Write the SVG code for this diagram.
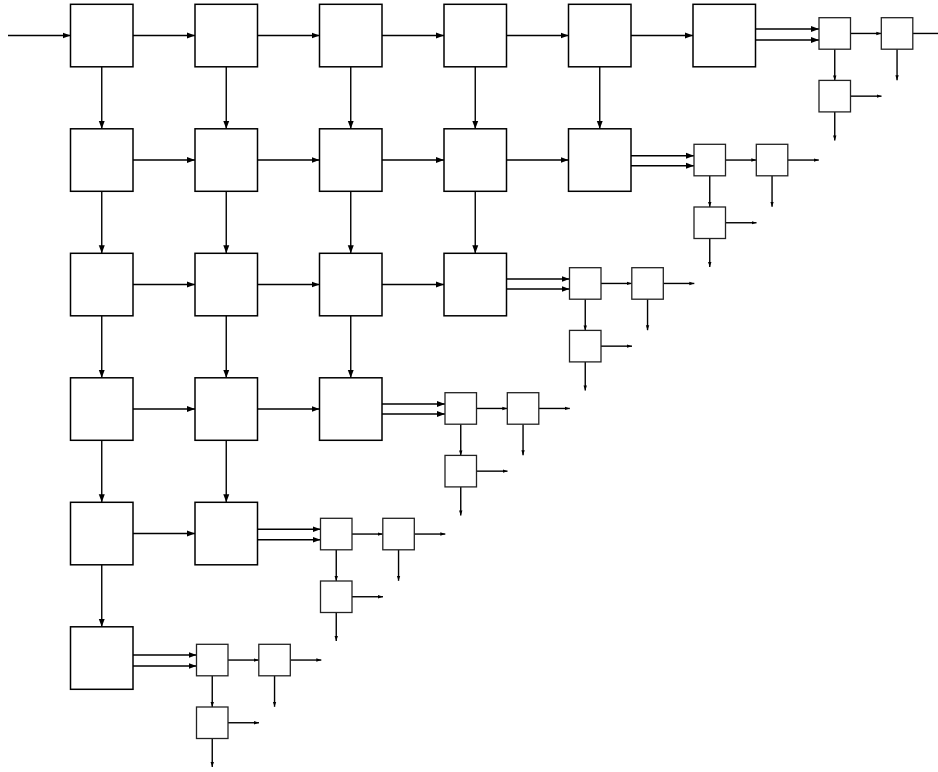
<svg xmlns="http://www.w3.org/2000/svg" width="938" height="772" viewBox="0 0 938 772">
<style>
.big{fill:#fff;stroke:#000;stroke-width:1.5}
.sm{fill:#fff;stroke:#222;stroke-width:1.3}
.c{stroke:#000;stroke-width:1.4;fill:none}
.cb{marker-end:url(#ab)}
.cs{marker-end:url(#as)}
</style>
<defs>
<marker id="ab" markerUnits="userSpaceOnUse" markerWidth="9" markerHeight="8" refX="8" refY="3.5" orient="auto"><path d="M0,0.5 L8,3.5 L0,6.5 z" fill="#000"/></marker>
<marker id="as" markerUnits="userSpaceOnUse" markerWidth="6" markerHeight="5" refX="5" refY="2" orient="auto"><path d="M0,0.3 L5,2 L0,3.7 z" fill="#000"/></marker>
</defs>
<rect width="938" height="772" fill="#fff"/>
<g id="connectors" class="c">
<line class="cb" x1="8" y1="35.55" x2="70.5" y2="35.55"/>
<line class="cb" x1="133" y1="35.55" x2="195" y2="35.55"/>
<line class="cb" x1="257.5" y1="35.55" x2="319.5" y2="35.55"/>
<line class="cb" x1="382" y1="35.55" x2="444" y2="35.55"/>
<line class="cb" x1="506.5" y1="35.55" x2="568.5" y2="35.55"/>
<line class="cb" x1="631" y1="35.55" x2="693" y2="35.55"/>
<line class="cb" x1="133" y1="160.05" x2="195" y2="160.05"/>
<line class="cb" x1="257.5" y1="160.05" x2="319.5" y2="160.05"/>
<line class="cb" x1="382" y1="160.05" x2="444" y2="160.05"/>
<line class="cb" x1="506.5" y1="160.05" x2="568.5" y2="160.05"/>
<line class="cb" x1="133" y1="284.55" x2="195" y2="284.55"/>
<line class="cb" x1="257.5" y1="284.55" x2="319.5" y2="284.55"/>
<line class="cb" x1="382" y1="284.55" x2="444" y2="284.55"/>
<line class="cb" x1="133" y1="409.05" x2="195" y2="409.05"/>
<line class="cb" x1="257.5" y1="409.05" x2="319.5" y2="409.05"/>
<line class="cb" x1="133" y1="533.55" x2="195" y2="533.55"/>
<line class="cb" x1="101.75" y1="66.8" x2="101.75" y2="128.8"/>
<line class="cb" x1="101.75" y1="191.3" x2="101.75" y2="253.3"/>
<line class="cb" x1="101.75" y1="315.8" x2="101.75" y2="377.8"/>
<line class="cb" x1="101.75" y1="440.3" x2="101.75" y2="502.3"/>
<line class="cb" x1="101.75" y1="564.8" x2="101.75" y2="626.8"/>
<line class="cb" x1="226.25" y1="66.8" x2="226.25" y2="128.8"/>
<line class="cb" x1="226.25" y1="191.3" x2="226.25" y2="253.3"/>
<line class="cb" x1="226.25" y1="315.8" x2="226.25" y2="377.8"/>
<line class="cb" x1="226.25" y1="440.3" x2="226.25" y2="502.3"/>
<line class="cb" x1="350.75" y1="66.8" x2="350.75" y2="128.8"/>
<line class="cb" x1="350.75" y1="191.3" x2="350.75" y2="253.3"/>
<line class="cb" x1="350.75" y1="315.8" x2="350.75" y2="377.8"/>
<line class="cb" x1="475.25" y1="66.8" x2="475.25" y2="128.8"/>
<line class="cb" x1="475.25" y1="191.3" x2="475.25" y2="253.3"/>
<line class="cb" x1="599.75" y1="66.8" x2="599.75" y2="128.8"/>
<!-- row 0 cluster -->
<line class="cb" x1="755.5" y1="29" x2="819" y2="29"/>
<line class="cb" x1="755.5" y1="40" x2="819" y2="40"/>
<line class="cs" x1="850.5" y1="33.45" x2="881.3" y2="33.45"/>
<line class="cs" x1="912.8" y1="33.45" x2="943.8" y2="33.45"/>
<line class="cs" x1="897.05" y1="49.2" x2="897.05" y2="80.2"/>
<line class="cs" x1="834.75" y1="49.2" x2="834.75" y2="80.4"/>
<line class="cs" x1="850.5" y1="96.15" x2="881.5" y2="96.15"/>
<line class="cs" x1="834.75" y1="111.9" x2="834.75" y2="140.4"/>
<!-- row 1 cluster -->
<line class="cb" x1="631" y1="155.7" x2="694" y2="155.7"/>
<line class="cb" x1="631" y1="165.7" x2="694" y2="165.7"/>
<line class="cs" x1="725.5" y1="160.05" x2="756.3" y2="160.05"/>
<line class="cs" x1="787.8" y1="160.05" x2="818.8" y2="160.05"/>
<line class="cs" x1="772.05" y1="175.8" x2="772.05" y2="206.8"/>
<line class="cs" x1="709.75" y1="175.8" x2="709.75" y2="207"/>
<line class="cs" x1="725.5" y1="222.75" x2="756.5" y2="222.75"/>
<line class="cs" x1="709.75" y1="238.5" x2="709.75" y2="267"/>
<!-- row 2 cluster -->
<line class="cb" x1="506.5" y1="279" x2="569.5" y2="279"/>
<line class="cb" x1="506.5" y1="289" x2="569.5" y2="289"/>
<line class="cs" x1="601" y1="283.45" x2="631.8" y2="283.45"/>
<line class="cs" x1="663.3" y1="283.45" x2="694.3" y2="283.45"/>
<line class="cs" x1="647.55" y1="299.2" x2="647.55" y2="330.2"/>
<line class="cs" x1="585.25" y1="299.2" x2="585.25" y2="330.4"/>
<line class="cs" x1="601" y1="346.15" x2="632" y2="346.15"/>
<line class="cs" x1="585.25" y1="361.9" x2="585.25" y2="390.4"/>
<!-- row 3 cluster -->
<line class="cb" x1="382" y1="404" x2="445" y2="404"/>
<line class="cb" x1="382" y1="414" x2="445" y2="414"/>
<line class="cs" x1="476.5" y1="408.45" x2="507.3" y2="408.45"/>
<line class="cs" x1="538.8" y1="408.45" x2="569.8" y2="408.45"/>
<line class="cs" x1="523.05" y1="424.2" x2="523.05" y2="455.2"/>
<line class="cs" x1="460.75" y1="424.2" x2="460.75" y2="455.4"/>
<line class="cs" x1="476.5" y1="471.15" x2="507.5" y2="471.15"/>
<line class="cs" x1="460.75" y1="486.9" x2="460.75" y2="515.4"/>
<!-- row 4 cluster -->
<line class="cb" x1="257.5" y1="529.3" x2="320.5" y2="529.3"/>
<line class="cb" x1="257.5" y1="539.7" x2="320.5" y2="539.7"/>
<line class="cs" x1="352" y1="534.05" x2="382.8" y2="534.05"/>
<line class="cs" x1="414.3" y1="534.05" x2="445.3" y2="534.05"/>
<line class="cs" x1="398.55" y1="549.8" x2="398.55" y2="580.8"/>
<line class="cs" x1="336.25" y1="549.8" x2="336.25" y2="581"/>
<line class="cs" x1="352" y1="596.75" x2="383" y2="596.75"/>
<line class="cs" x1="336.25" y1="612.5" x2="336.25" y2="641"/>
<!-- row 5 cluster -->
<line class="cb" x1="133" y1="655" x2="196.5" y2="655"/>
<line class="cb" x1="133" y1="666" x2="196.5" y2="666"/>
<line class="cs" x1="228" y1="660.05" x2="258.8" y2="660.05"/>
<line class="cs" x1="290.3" y1="660.05" x2="321.3" y2="660.05"/>
<line class="cs" x1="274.55" y1="675.8" x2="274.55" y2="706.8"/>
<line class="cs" x1="212.25" y1="675.8" x2="212.25" y2="707"/>
<line class="cs" x1="228" y1="722.75" x2="259" y2="722.75"/>
<line class="cs" x1="212.25" y1="738.5" x2="212.25" y2="767"/>
</g>
<g id="n00"><rect class="big" x="70.5" y="4.3" width="62.5" height="62.5"/></g>
<g id="n01"><rect class="big" x="195" y="4.3" width="62.5" height="62.5"/></g>
<g id="n02"><rect class="big" x="319.5" y="4.3" width="62.5" height="62.5"/></g>
<g id="n03"><rect class="big" x="444" y="4.3" width="62.5" height="62.5"/></g>
<g id="n04"><rect class="big" x="568.5" y="4.3" width="62.5" height="62.5"/></g>
<g id="n05"><rect class="big" x="693" y="4.3" width="62.5" height="62.5"/></g>
<g id="n10"><rect class="big" x="70.5" y="128.8" width="62.5" height="62.5"/></g>
<g id="n11"><rect class="big" x="195" y="128.8" width="62.5" height="62.5"/></g>
<g id="n12"><rect class="big" x="319.5" y="128.8" width="62.5" height="62.5"/></g>
<g id="n13"><rect class="big" x="444" y="128.8" width="62.5" height="62.5"/></g>
<g id="n14"><rect class="big" x="568.5" y="128.8" width="62.5" height="62.5"/></g>
<g id="n20"><rect class="big" x="70.5" y="253.3" width="62.5" height="62.5"/></g>
<g id="n21"><rect class="big" x="195" y="253.3" width="62.5" height="62.5"/></g>
<g id="n22"><rect class="big" x="319.5" y="253.3" width="62.5" height="62.5"/></g>
<g id="n23"><rect class="big" x="444" y="253.3" width="62.5" height="62.5"/></g>
<g id="n30"><rect class="big" x="70.5" y="377.8" width="62.5" height="62.5"/></g>
<g id="n31"><rect class="big" x="195" y="377.8" width="62.5" height="62.5"/></g>
<g id="n32"><rect class="big" x="319.5" y="377.8" width="62.5" height="62.5"/></g>
<g id="n40"><rect class="big" x="70.5" y="502.3" width="62.5" height="62.5"/></g>
<g id="n41"><rect class="big" x="195" y="502.3" width="62.5" height="62.5"/></g>
<g id="n50"><rect class="big" x="70.5" y="626.8" width="62.5" height="62.5"/></g>
<g id="s0a"><rect class="sm" x="819" y="17.7" width="31.5" height="31.5"/></g>
<g id="s0b"><rect class="sm" x="881.3" y="17.7" width="31.5" height="31.5"/></g>
<g id="s0c"><rect class="sm" x="819" y="80.4" width="31.5" height="31.5"/></g>
<g id="s1a"><rect class="sm" x="694" y="144.3" width="31.5" height="31.5"/></g>
<g id="s1b"><rect class="sm" x="756.3" y="144.3" width="31.5" height="31.5"/></g>
<g id="s1c"><rect class="sm" x="694" y="207" width="31.5" height="31.5"/></g>
<g id="s2a"><rect class="sm" x="569.5" y="267.7" width="31.5" height="31.5"/></g>
<g id="s2b"><rect class="sm" x="631.8" y="267.7" width="31.5" height="31.5"/></g>
<g id="s2c"><rect class="sm" x="569.5" y="330.4" width="31.5" height="31.5"/></g>
<g id="s3a"><rect class="sm" x="445" y="392.7" width="31.5" height="31.5"/></g>
<g id="s3b"><rect class="sm" x="507.3" y="392.7" width="31.5" height="31.5"/></g>
<g id="s3c"><rect class="sm" x="445" y="455.4" width="31.5" height="31.5"/></g>
<g id="s4a"><rect class="sm" x="320.5" y="518.3" width="31.5" height="31.5"/></g>
<g id="s4b"><rect class="sm" x="382.8" y="518.3" width="31.5" height="31.5"/></g>
<g id="s4c"><rect class="sm" x="320.5" y="581" width="31.5" height="31.5"/></g>
<g id="s5a"><rect class="sm" x="196.5" y="644.3" width="31.5" height="31.5"/></g>
<g id="s5b"><rect class="sm" x="258.8" y="644.3" width="31.5" height="31.5"/></g>
<g id="s5c"><rect class="sm" x="196.5" y="707" width="31.5" height="31.5"/></g>
</svg>
